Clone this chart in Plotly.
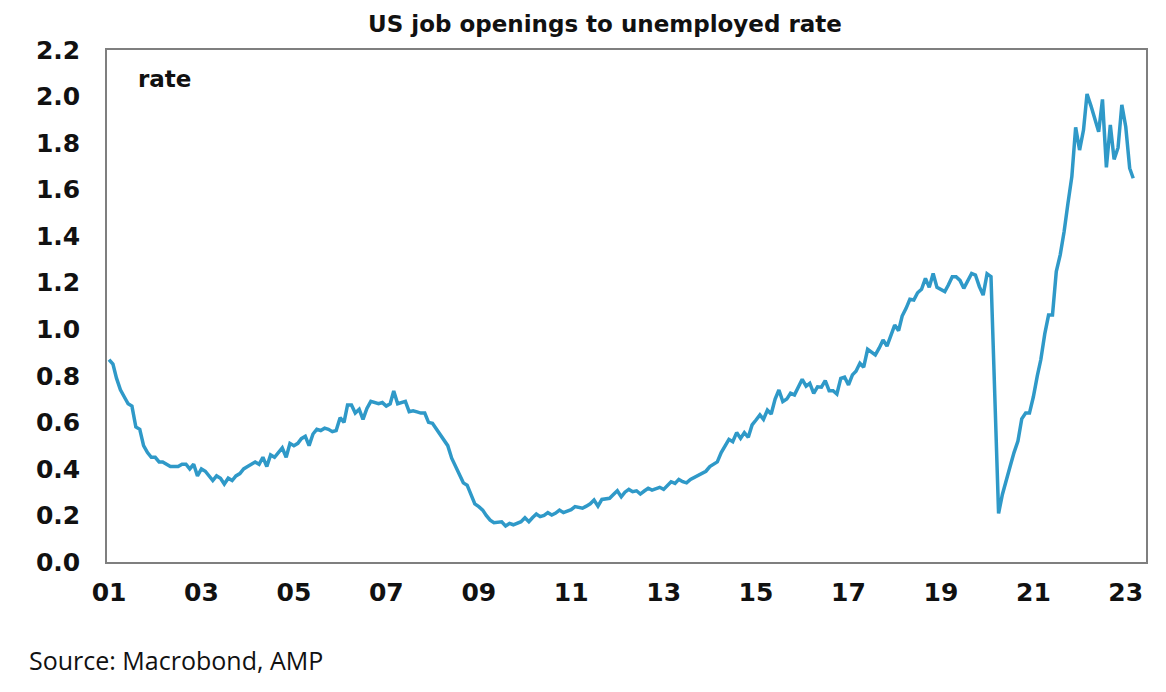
import plotly.graph_objects as go
import pandas as pd

# monthly job openings / unemployed (Jan 2001 - Mar 2023)
y2001 = [0.87, 0.85, 0.79, 0.74, 0.71, 0.68, 0.67, 0.58, 0.57, 0.50, 0.47, 0.45]
y2002 = [0.45, 0.43, 0.43, 0.42, 0.41, 0.41, 0.41, 0.42, 0.42, 0.40, 0.42, 0.37]
y2003 = [0.40, 0.39, 0.37, 0.35, 0.37, 0.36, 0.335, 0.36, 0.35, 0.37, 0.38, 0.40]
y2004 = [0.41, 0.42, 0.43, 0.42, 0.45, 0.41, 0.46, 0.45, 0.47, 0.49, 0.45, 0.51]
y2005 = [0.50, 0.51, 0.53, 0.54, 0.50, 0.55, 0.57, 0.565, 0.575, 0.57, 0.56, 0.565]
y2006 = [0.62, 0.60, 0.675, 0.675, 0.64, 0.656, 0.613, 0.66, 0.69, 0.685, 0.68, 0.685]
y2007 = [0.67, 0.68, 0.735, 0.68, 0.686, 0.69, 0.646, 0.65, 0.645, 0.64, 0.64, 0.60]
y2008 = [0.596, 0.57, 0.546, 0.524, 0.50, 0.446, 0.41, 0.38, 0.34, 0.33, 0.292, 0.25]
y2009 = [0.238, 0.223, 0.20, 0.18, 0.169, 0.17, 0.173, 0.155, 0.166, 0.16, 0.165, 0.173]
y2010 = [0.19, 0.173, 0.19, 0.206, 0.195, 0.20, 0.212, 0.202, 0.21, 0.223, 0.212, 0.22]
y2011 = [0.225, 0.238, 0.235, 0.231, 0.24, 0.25, 0.266, 0.24, 0.269, 0.27, 0.274, 0.29]
y2012 = [0.306, 0.28, 0.30, 0.312, 0.302, 0.306, 0.292, 0.305, 0.317, 0.309, 0.315, 0.321]
y2013 = [0.312, 0.33, 0.345, 0.338, 0.355, 0.345, 0.34, 0.355, 0.364, 0.37, 0.381, 0.39]
y2014 = [0.41, 0.42, 0.43, 0.47, 0.495, 0.527, 0.517, 0.556, 0.531, 0.556, 0.536, 0.589]
y2015 = [0.61, 0.632, 0.613, 0.653, 0.636, 0.70, 0.739, 0.689, 0.70, 0.725, 0.718, 0.75]
y2016 = [0.785, 0.756, 0.768, 0.725, 0.753, 0.751, 0.779, 0.736, 0.736, 0.722, 0.789, 0.794]
y2017 = [0.761, 0.804, 0.82, 0.854, 0.837, 0.914, 0.90, 0.89, 0.92, 0.954, 0.928, 0.97]
y2018 = [1.018, 0.994, 1.057, 1.09, 1.129, 1.126, 1.157, 1.172, 1.219, 1.18, 1.24, 1.18]
y2019 = [1.17, 1.162, 1.19, 1.226, 1.226, 1.21, 1.176, 1.21, 1.24, 1.233, 1.183, 1.147]
y2020 = [1.238, 1.226, 0.75, 0.209, 0.29, 0.345, 0.41, 0.47, 0.52, 0.615, 0.64, 0.64]
y2021 = [0.71, 0.80, 0.87, 0.98, 1.061, 1.061, 1.248, 1.32, 1.42, 1.54, 1.656, 1.868]
y2022 = [1.77, 1.856, 2.011, 1.96, 1.90, 1.849, 1.988, 1.696, 1.878, 1.73, 1.78, 1.964]
y2023 = [1.87, 1.692, 1.649]

values = (y2001 + y2002 + y2003 + y2004 + y2005 + y2006 + y2007 + y2008 + y2009
          + y2010 + y2011 + y2012 + y2013 + y2014 + y2015 + y2016 + y2017 + y2018
          + y2019 + y2020 + y2021 + y2022 + y2023)
dates = pd.date_range("2001-01-01", periods=len(values), freq="MS")

fig = go.Figure(go.Scatter(x=dates, y=values, mode="lines",
                           line=dict(color="#2f99c8", width=3.5)))

tick_font = dict(family="DejaVu Sans", size=25, color="#111111", weight="bold")

# page body has an 8px margin, so the figure is 8px smaller than the window
fig.update_layout(
    width=1158, height=684,
    margin=dict(l=99, r=20, t=42, b=130, autoexpand=False),
    plot_bgcolor="white", paper_bgcolor="white",
    showlegend=False,
    title=dict(text="US job openings to unemployed rate", x=0.5155, xanchor="center",
               y=0.977, yanchor="middle",
               font=dict(family="DejaVu Sans", size=23, color="#111111", weight="bold")),
    xaxis=dict(type="date", range=["2000-12-16", "2023-06-10"],
               tick0="2001-01-01", dtick="M24", tickformat="%y",
               showgrid=False, zeroline=False, showline=True, mirror=True,
               linecolor="#7f7f7f", linewidth=1.5, ticks="", automargin=False,
               tickfont=tick_font, ticklabelstandoff=7),
    yaxis=dict(range=[0, 2.2], dtick=0.2, tickformat=".1f",
               showgrid=False, zeroline=False, showline=True, mirror=True,
               linecolor="#7f7f7f", linewidth=1.5, ticks="", automargin=False,
               tickfont=tick_font, ticklabelstandoff=20),
    annotations=[
        dict(text="rate", xref="paper", yref="paper", x=0.028, y=0.943,
             xanchor="left", yanchor="middle", showarrow=False,
             font=dict(family="DejaVu Sans", size=23, color="#111111", weight="bold")),
        dict(text="Source: Macrobond, AMP", xref="paper", yref="paper",
             x=-0.077, y=-0.191, xanchor="left", yanchor="middle", showarrow=False,
             font=dict(family="Open Sans", size=25, color="#111111")),
    ],
)

fig.write_html("out.html")
